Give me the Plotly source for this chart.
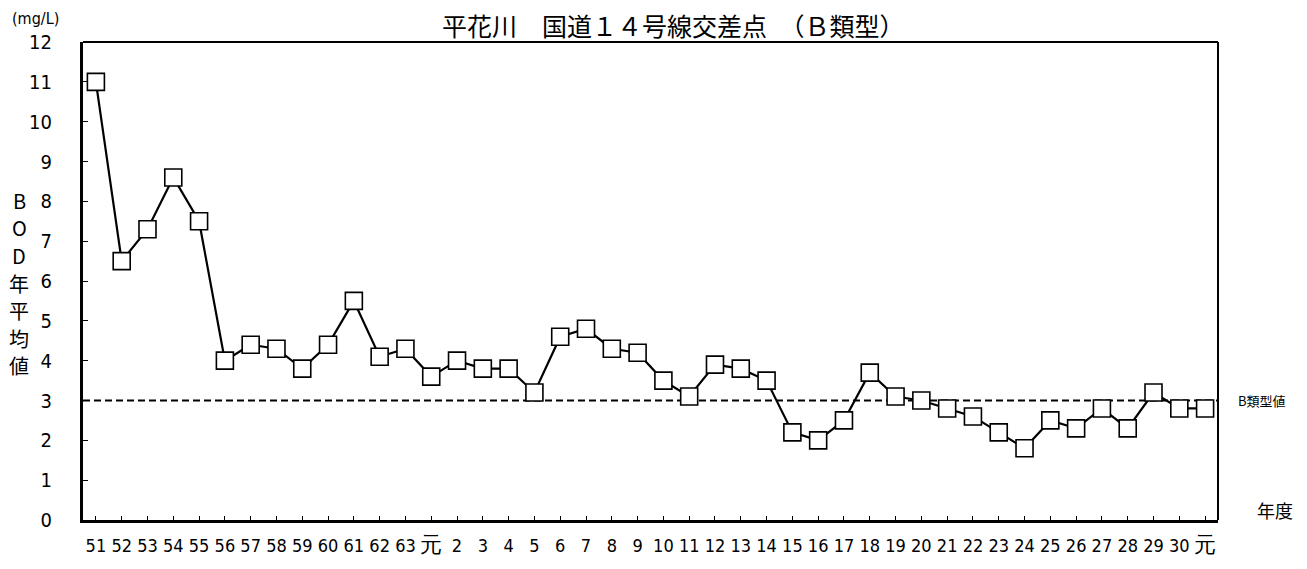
import plotly.graph_objects as go

# ---- data ----
years = ["51", "52", "53", "54", "55", "56", "57", "58", "59", "60", "61", "62", "63",
         "元", "2", "3", "4", "5", "6", "7", "8", "9", "10", "11", "12", "13", "14",
         "15", "16", "17", "18", "19", "20", "21", "22", "23", "24", "25", "26", "27",
         "28", "29", "30", "元 "]
bod = [11.0, 6.5, 7.3, 8.6, 7.5, 4.0, 4.4, 4.3, 3.8, 4.4, 5.5, 4.1, 4.3,
       3.6, 4.0, 3.8, 3.8, 3.2, 4.6, 4.8, 4.3, 4.2, 3.5, 3.1, 3.9, 3.8, 3.5,
       2.2, 2.0, 2.5, 3.7, 3.1, 3.0, 2.8, 2.6, 2.2, 1.8, 2.5, 2.3, 2.8,
       2.3, 3.2, 2.8, 2.8]
standard_b = 3.0
y_ticks = list(range(0, 13))
y_title_chars = ["B", "O", "D", "年", "平", "均", "値"]

tick_text = []
for y in years:
    if y.strip() == "元":
        tick_text.append('<span style="font-size:22px">元</span>')
    else:
        tick_text.append(y)

x_idx = list(range(len(years)))

fig = go.Figure()
fig.add_trace(go.Scatter(
    x=x_idx, y=bod, mode="lines+markers",
    line=dict(color="black", width=2.2),
    marker=dict(symbol="square", size=17, color="white",
                line=dict(color="black", width=1.6)),
    showlegend=False, hoverinfo="skip",
))

font_main = "Liberation Sans Narrow, Arial Narrow, DejaVu Sans Condensed, sans-serif"
cjk = "Noto Sans CJK JP"

annotations = [
    dict(text="平花川　国道１４号線交差点　（Ｂ類型）", xref="paper", yref="paper",
         x=0.52, y=1, yshift=17, showarrow=False, xanchor="center", yanchor="middle",
         font=dict(family=cjk, size=25, color="black")),
    dict(text="(mg/L)", xref="paper", yref="paper", x=0, y=1, xshift=-73, yshift=24,
         showarrow=False, xanchor="left", yanchor="middle",
         font=dict(family=font_main, size=16, color="black")),
    dict(text="年度", xref="paper", yref="paper", x=1, y=0, xshift=57, yshift=10,
         showarrow=False, xanchor="center", yanchor="middle",
         font=dict(family=cjk, size=18, color="black")),
    dict(text="B類型値", xref="paper", yref="y", x=1, y=standard_b, xshift=44,
         showarrow=False, xanchor="center", yanchor="middle",
         font=dict(family=cjk, size=13, color="black")),
]
# vertical axis title, one character per line
step = 27.6
n = len(y_title_chars)
for i, ch in enumerate(y_title_chars):
    annotations.append(dict(
        text=ch, xref="paper", yref="paper", x=0, y=0.5,
        xshift=-64, yshift=(n - 1) / 2 * step - i * step - 2,
        showarrow=False, xanchor="center", yanchor="middle",
        font=dict(family=cjk, size=20, color="black")))

fig.update_layout(
    width=1299, height=561,
    margin=dict(l=75, r=89, t=34, b=46),
    plot_bgcolor="white", paper_bgcolor="white",
    xaxis=dict(
        range=[-0.5, len(years) - 0.5],
        tickmode="array", tickvals=x_idx, ticktext=tick_text,
        showgrid=False, zeroline=False,
        showline=True, linecolor="black", linewidth=3,
        ticks="inside", ticklen=4, tickwidth=1, tickcolor="black",
        tickfont=dict(family=font_main, size=18, color="black"),
        ticklabelstandoff=7,
        fixedrange=True,
    ),
    yaxis=dict(
        range=[0, 12], tickmode="array", tickvals=y_ticks,
        ticktext=[str(v) for v in y_ticks],
        showgrid=False, zeroline=False,
        showline=True, linecolor="black", linewidth=3,
        ticks="inside", ticklen=5, tickwidth=1, tickcolor="black",
        tickfont=dict(family=font_main, size=20, color="black"),
        ticklabelstandoff=24,
        fixedrange=True,
    ),
    shapes=[
        dict(type="line", xref="paper", yref="y", x0=0, x1=1,
             y0=standard_b, y1=standard_b,
             line=dict(color="black", width=2, dash="7px,4px"), layer="below"),
        dict(type="line", xref="paper", yref="paper", x0=0, x1=1, y0=1, y1=1,
             line=dict(color="black", width=2)),
        dict(type="line", xref="paper", yref="paper", x0=1, x1=1, y0=0, y1=1,
             line=dict(color="black", width=2)),
    ],
    annotations=annotations,
)

fig.write_html("out.html")
